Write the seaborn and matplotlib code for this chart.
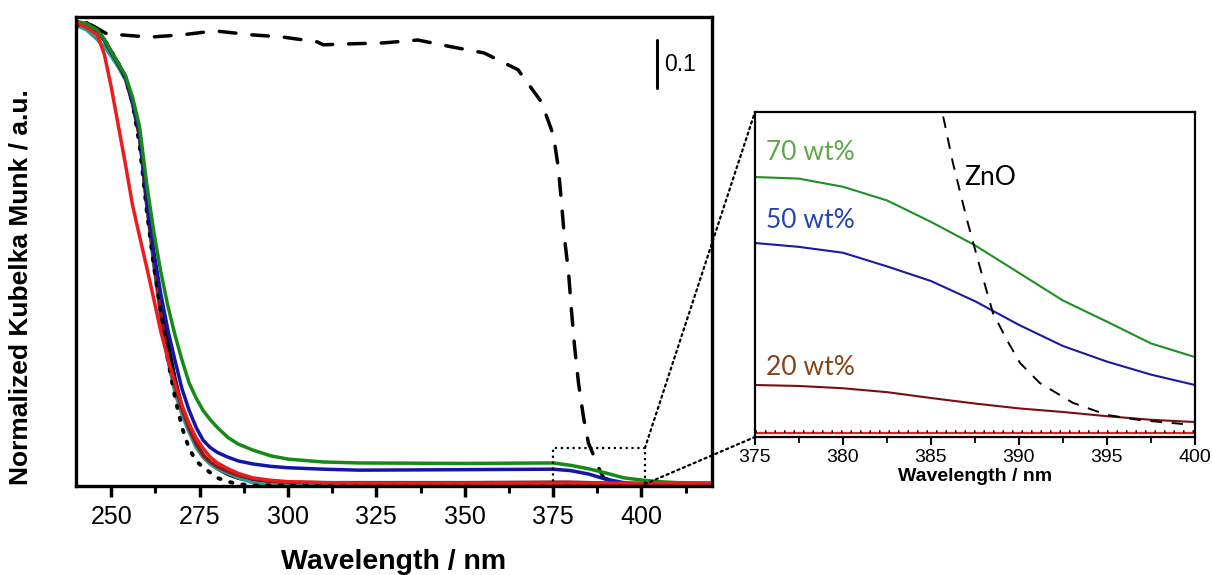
import numpy as np
import pandas as pd
import seaborn as sns
import matplotlib.pyplot as plt
from matplotlib.patches import Rectangle, ConnectionPatch
from matplotlib.ticker import MultipleLocator

sns.set_style("white")
plt.rcParams["font.family"] = ["Liberation Sans", "DejaVu Sans"]
plt.rcParams["text.color"] = "black"
plt.rcParams["axes.labelcolor"] = "black"
plt.rcParams["xtick.color"] = "black"

# ---- main panel (wavelength in nm, normalized KM) ----
wl = [240, 243, 246, 248, 250, 252, 254, 256, 258, 260, 262, 264, 266, 268, 270,
      272, 274, 276, 278, 280, 283, 286, 290, 295, 300, 310, 320, 350, 375, 380,
      385, 390, 395, 400, 405, 410, 420]

km_red = [0.965, 0.955, 0.940, 0.900, 0.830, 0.750, 0.670, 0.585, 0.520, 0.456, 0.390, 0.322, 0.265, 0.215, 0.168,
          0.130, 0.100, 0.078, 0.060, 0.048, 0.036, 0.026, 0.017, 0.012, 0.009, 0.007, 0.006, 0.006, 0.006, 0.006,
          0.006, 0.006, 0.006, 0.006, 0.006, 0.006, 0.006]
km_green = [0.968, 0.963, 0.950, 0.930, 0.905, 0.880, 0.855, 0.810, 0.748, 0.630, 0.530, 0.446, 0.375, 0.315, 0.262,
            0.215, 0.183, 0.157, 0.138, 0.122, 0.101, 0.087, 0.075, 0.063, 0.056, 0.050, 0.048, 0.047, 0.048, 0.043,
            0.036, 0.027, 0.017, 0.0125, 0.009, 0.007, 0.006]
km_blue = [0.966, 0.962, 0.948, 0.928, 0.903, 0.878, 0.852, 0.800, 0.735, 0.600, 0.490, 0.400, 0.325, 0.262, 0.202,
           0.158, 0.122, 0.095, 0.080, 0.070, 0.060, 0.052, 0.046, 0.041, 0.038, 0.035, 0.033, 0.034, 0.035, 0.032,
           0.025, 0.014, 0.007, 0.004, 0.003, 0.003, 0.003]
km_black = [0.955, 0.965, 0.952, 0.930, 0.905, 0.880, 0.852, 0.800, 0.730, 0.590, 0.480, 0.390, 0.300, 0.225, 0.165,
            0.120, 0.088, 0.065, 0.048, 0.036, 0.024, 0.016, 0.010, 0.006, 0.004, 0.003, 0.003, 0.003, 0.003, 0.003,
            0.003, 0.003, 0.003, 0.003, 0.003, 0.003, 0.003]
km_teal = [0.960, 0.950, 0.930, 0.915, 0.895, 0.872, 0.846, 0.795, 0.725, 0.585, 0.460, 0.350, 0.262, 0.195, 0.148,
           0.112, 0.080, 0.059, 0.045, 0.036, 0.026, 0.017, 0.007, 0.003, 0.002, 0.002, 0.002, 0.002, 0.002, 0.002,
           0.002, 0.002, 0.002, 0.002, 0.002, 0.002, 0.002]
km_darkred = [0.962, 0.960, 0.948, 0.928, 0.903, 0.877, 0.850, 0.798, 0.728, 0.590, 0.470, 0.360, 0.265, 0.210, 0.160,
              0.120, 0.088, 0.064, 0.050, 0.040, 0.030, 0.022, 0.015, 0.010, 0.008, 0.007, 0.007, 0.007, 0.008, 0.008,
              0.007, 0.006, 0.005, 0.004, 0.004, 0.004, 0.004]
km_dotted = [0.960, 0.962, 0.950, 0.930, 0.905, 0.880, 0.850, 0.800, 0.710, 0.575, 0.460, 0.365, 0.263, 0.185, 0.122,
             0.078, 0.052, 0.039, 0.028, 0.017, 0.009, 0.004, 0.001, 0.001, 0.001, 0.001, 0.001, 0.001, 0.001, 0.001,
             0.001, 0.001, 0.001, 0.001, 0.001, 0.001, 0.001]

wl_zno = [244.4, 248.7, 260.9, 270.3, 279.3, 289.3, 298.7, 308.3, 310.0, 317.7, 327.1, 336.7, 346.1, 355.5,
          365.1, 371.7, 375.1, 376.5, 377.4, 378.2, 379.4, 380.2, 381.1, 382.2, 383.6, 385.0, 388.2, 389.3,
          394.4, 400.1]
km_zno = [0.960, 0.942, 0.935, 0.940, 0.948, 0.940, 0.935, 0.925, 0.919, 0.921, 0.923, 0.929, 0.915, 0.902,
          0.867, 0.800, 0.731, 0.663, 0.590, 0.519, 0.444, 0.367, 0.290, 0.215, 0.144, 0.090, 0.033, 0.017,
          0.004, 0.0]

# ---- inset (375-400 nm zoom, arbitrary units) ----
wl_in = [375, 377.5, 380, 382.5, 385, 387.5, 390, 392.5, 395, 397.5, 400]
in_70 = [0.800, 0.795, 0.770, 0.728, 0.662, 0.590, 0.505, 0.420, 0.355, 0.288, 0.246]
in_50 = [0.597, 0.585, 0.567, 0.525, 0.480, 0.418, 0.345, 0.280, 0.232, 0.192, 0.160]
in_20 = [0.160, 0.157, 0.150, 0.138, 0.120, 0.103, 0.088, 0.077, 0.064, 0.053, 0.046]
in_red = [0.013, 0.013, 0.013, 0.013, 0.013, 0.013, 0.013, 0.013, 0.013, 0.013, 0.013]
in_dot = [0.019, 0.019, 0.019, 0.019, 0.019, 0.019, 0.019, 0.019, 0.019, 0.019, 0.019]
wl_in_zno = [385.4, 385.74, 386.25, 387.05, 387.78, 388.52, 389.32, 390.06, 391.19, 393.07, 395.0, 396.88, 399.32]
in_zno = [1.05, 0.975, 0.843, 0.668, 0.523, 0.382, 0.298, 0.228, 0.166, 0.105, 0.068, 0.052, 0.040]

fig = plt.figure(figsize=(12.12, 5.75), dpi=100)
ax = fig.add_axes([0.0627, 0.1548, 0.5248, 0.8157])
axin = fig.add_axes([0.6229, 0.24, 0.3630, 0.5652])

main_lines = [
    ("ZnO", wl_zno, km_zno, "black", (0, (4.8, 4.6)), 2.5),
    ("black", wl, km_black, "black", "-", 2.5),
    ("teal", wl, km_teal, "#2a9d9a", "-", 2.5),
    ("darkred", wl, km_darkred, "#8b1a1a", "-", 2.5),
    ("dotted", wl, km_dotted, "black", (0, (0.6, 2.6)), 2.8),
    ("blue", wl, km_blue, "#1414a8", "-", 2.5),
    ("green", wl, km_green, "#168a16", "-", 2.5),
    ("red", wl, km_red, "#ec1c1c", "-", 2.5),
]
for name, x, y, c, ls, lw in main_lines:
    df = pd.DataFrame({"wl": x, "km": y})
    sns.lineplot(data=df, x="wl", y="km", ax=ax, color=c, lw=lw, linestyle=ls,
                 estimator=None, sort=False, dash_capstyle="round")

ax.set_xlim(240, 420)
ax.set_ylim(0, 0.977)
ax.xaxis.set_major_locator(MultipleLocator(25))
ax.xaxis.set_minor_locator(MultipleLocator(12.5))
ax.set_yticks([])
ax.tick_params(axis="x", which="major", length=8, width=2.5, direction="out",
               labelsize=18, pad=6, bottom=True, labelcolor="black")
ax.tick_params(axis="x", which="minor", length=5, width=2.2, direction="out", bottom=True)
for s in ax.spines.values():
    s.set_linewidth(2.4)
    s.set_color("black")
ax.set_xlabel("Wavelength / nm", fontsize=20.5, fontweight="bold", labelpad=14)
ax.set_ylabel("")
fig.text(0.017, 0.50, "Normalized Kubelka Munk / a.u.", rotation=90, fontsize=19,
         fontweight="bold", ha="center", va="center")

# scale bar
ax.plot([404.3, 404.3], [0.829, 0.929], color="black", lw=2.2)
ax.text(406.3, 0.879, "0.1", fontsize=16.5, va="center", ha="left")

# zoom box + connectors
ax.add_patch(Rectangle((375, 0.0), 26, 0.079, fill=False, ls=":", lw=1.6, ec="black",
                       clip_on=False, zorder=5))
for yA, yB in [(0.079, 1.0), (0.004, 0.0)]:
    con = ConnectionPatch(xyA=(401, yA), coordsA=ax.transData, xyB=(0, yB),
                          coordsB=axin.transAxes, ls=":", lw=1.6, color="black")
    fig.add_artist(con)

# inset
inset_lines = [
    (wl_in, in_70, "#1f8f1f", "-", 1.5),
    (wl_in, in_50, "#1a1aa0", "-", 1.5),
    (wl_in, in_20, "#7a0f12", "-", 1.5),
    (wl_in, in_red, "#ee1c1c", "-", 1.6),
    (wl_in, in_dot, "black", (0, (0.6, 3.2)), 1.8),
    (wl_in_zno, in_zno, "black", (0, (6, 5)), 1.4),
]
for x, y, c, ls, lw in inset_lines:
    df = pd.DataFrame({"wl": x, "km": y})
    sns.lineplot(data=df, x="wl", y="km", ax=axin, color=c, lw=lw, linestyle=ls,
                 estimator=None, sort=False)

axin.set_xlim(375, 400)
axin.set_ylim(0, 1)
axin.xaxis.set_major_locator(MultipleLocator(5))
axin.xaxis.set_minor_locator(MultipleLocator(2.5))
axin.set_yticks([])
axin.tick_params(axis="x", which="major", length=6, width=1.5, direction="out",
                 labelsize=14, pad=3, bottom=True, labelcolor="black")
axin.tick_params(axis="x", which="minor", length=4, width=1.3, direction="out", bottom=True)
for s in axin.spines.values():
    s.set_linewidth(1.6)
    s.set_color("black")
axin.set_xlabel("Wavelength / nm", fontsize=14, fontweight="bold", labelpad=1)
axin.set_ylabel("")

lbl = ["Lato", "DejaVu Sans"]
axin.text(0.025, 0.875, "70 wt%", transform=axin.transAxes, color="#5ea84a", fontsize=19,
          va="center", family=lbl)
axin.text(0.025, 0.665, "50 wt%", transform=axin.transAxes, color="#2445b5", fontsize=19,
          va="center", family=lbl)
axin.text(0.025, 0.215, "20 wt%", transform=axin.transAxes, color="#864318", fontsize=19,
          va="center", family=lbl)
axin.text(0.475, 0.80, "ZnO", transform=axin.transAxes, color="black", fontsize=19,
          va="center", family=lbl)

fig.savefig("out.png", dpi=100)
